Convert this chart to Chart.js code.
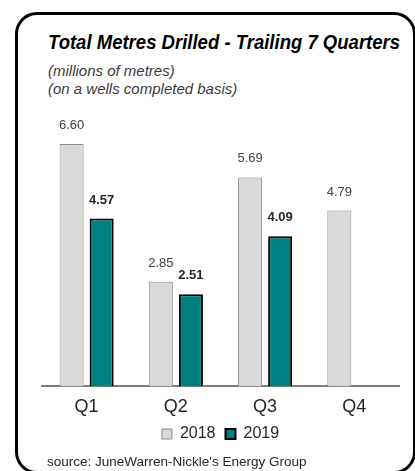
<!DOCTYPE html>
<html>
<head>
<meta charset="utf-8">
<script src="https://cdn.jsdelivr.net/npm/chart.js@4.4.0/dist/chart.umd.min.js"></script>
<style>
  body { margin: 0; background: #fff; }
  #wrap { position: relative; width: 415px; height: 471px; overflow: hidden; font-family: "Liberation Sans", Arial, sans-serif; }
  #frame { position: absolute; left: 15px; top: 12px; width: 395px; height: 456px; border: 3px solid #000; border-radius: 22px; }
  #chart { position: absolute; left: 0; top: 0; }
  .txt { position: absolute; white-space: nowrap; line-height: 1; }
  #title { left: 48px; top: 31px; font-size: 21px; font-weight: bold; font-style: italic; color: #000; transform-origin: 0 0; }
  .sub { left: 48px; font-size: 15px; font-style: italic; color: #3a3a3a; }
  #sub1 { top: 63px; }
  #sub2 { top: 81px; }
  #source { left: 47px; top: 455px; font-size: 13.5px; color: #262626; }
</style>
</head>
<body>
<div id="wrap">
  <div id="frame"></div>
  <div id="title" class="txt">Total Metres Drilled - Trailing 7 Quarters</div>
  <div id="sub1" class="txt sub">(millions of metres)</div>
  <div id="sub2" class="txt sub">(on a wells completed basis)</div>
  <canvas id="chart" width="415" height="471"></canvas>
  <div id="source" class="txt">source: JuneWarren-Nickle's Energy Group</div>
</div>
<script>
const quarters = ['Q1', 'Q2', 'Q3', 'Q4'];
const metres2018 = [6.60, 2.85, 5.69, 4.79];
const metres2019 = [4.57, 2.51, 4.09, null];
const seriesNames = ['2018', '2019'];

// le titre d'origine est en police étroite : on le resserre à sa largeur
const title = document.getElementById('title');
title.style.transform = 'scaleX(' + (352 / title.scrollWidth) + ')';

// valeurs au-dessus des barres
const valueLabels = {
    id: 'valueLabels',
    afterDatasetsDraw(chart) {
        const ctx = chart.ctx;
        ctx.save();
        ctx.textAlign = 'center';
        ctx.textBaseline = 'alphabetic';
        chart.data.datasets.forEach((ds, i) => {
            const meta = chart.getDatasetMeta(i);
            ctx.font = (i === 1 ? 'bold ' : '') + '13px "Liberation Sans", Arial, sans-serif';
            ctx.fillStyle = i === 1 ? '#262626' : '#404040';
            meta.data.forEach((bar, j) => {
                const v = ds.data[j];
                if (v === null) return;
                ctx.fillText(v.toFixed(2), bar.x, bar.y - 15);
            });
        });
        ctx.restore();
    }
};

new Chart(document.getElementById('chart').getContext('2d'), {
    type: 'bar',
    data: {
        labels: quarters,
        datasets: [
            { label: seriesNames[0], data: metres2018, backgroundColor: '#d9d9d9', borderColor: '#8c8c8c', borderWidth: 1 },
            { label: seriesNames[1], data: metres2019, backgroundColor: '#008080', borderColor: '#000000', borderWidth: 2 }
        ]
    },
    options: {
        responsive: false,
        animation: false,
        events: [],
        layout: { padding: { left: 42, right: 16, top: 111, bottom: 19 } },
        datasets: { bar: { categoryPercentage: 0.674, barPercentage: 0.8 } },
        plugins: {
            title: { display: false },
            tooltip: { enabled: false },
            legend: {
                position: 'bottom',
                labels: {
                    boxWidth: 10, boxHeight: 10, padding: 10,
                    color: '#262626',
                    font: { size: 16, family: '"Liberation Sans", Arial, sans-serif' }
                }
            }
        },
        scales: {
            x: {
                grid: { display: false, drawTicks: false },
                border: { display: true, color: '#7f7f7f', width: 2 },
                ticks: { padding: 10, color: '#262626', font: { size: 18, family: '"Liberation Sans", Arial, sans-serif' } },
                afterFit: (scale) => { scale.height -= 12; }
            },
            y: { display: false, min: 0, max: 7.5 }
        }
    },
    plugins: [valueLabels]
});
</script>
</body>
</html>
